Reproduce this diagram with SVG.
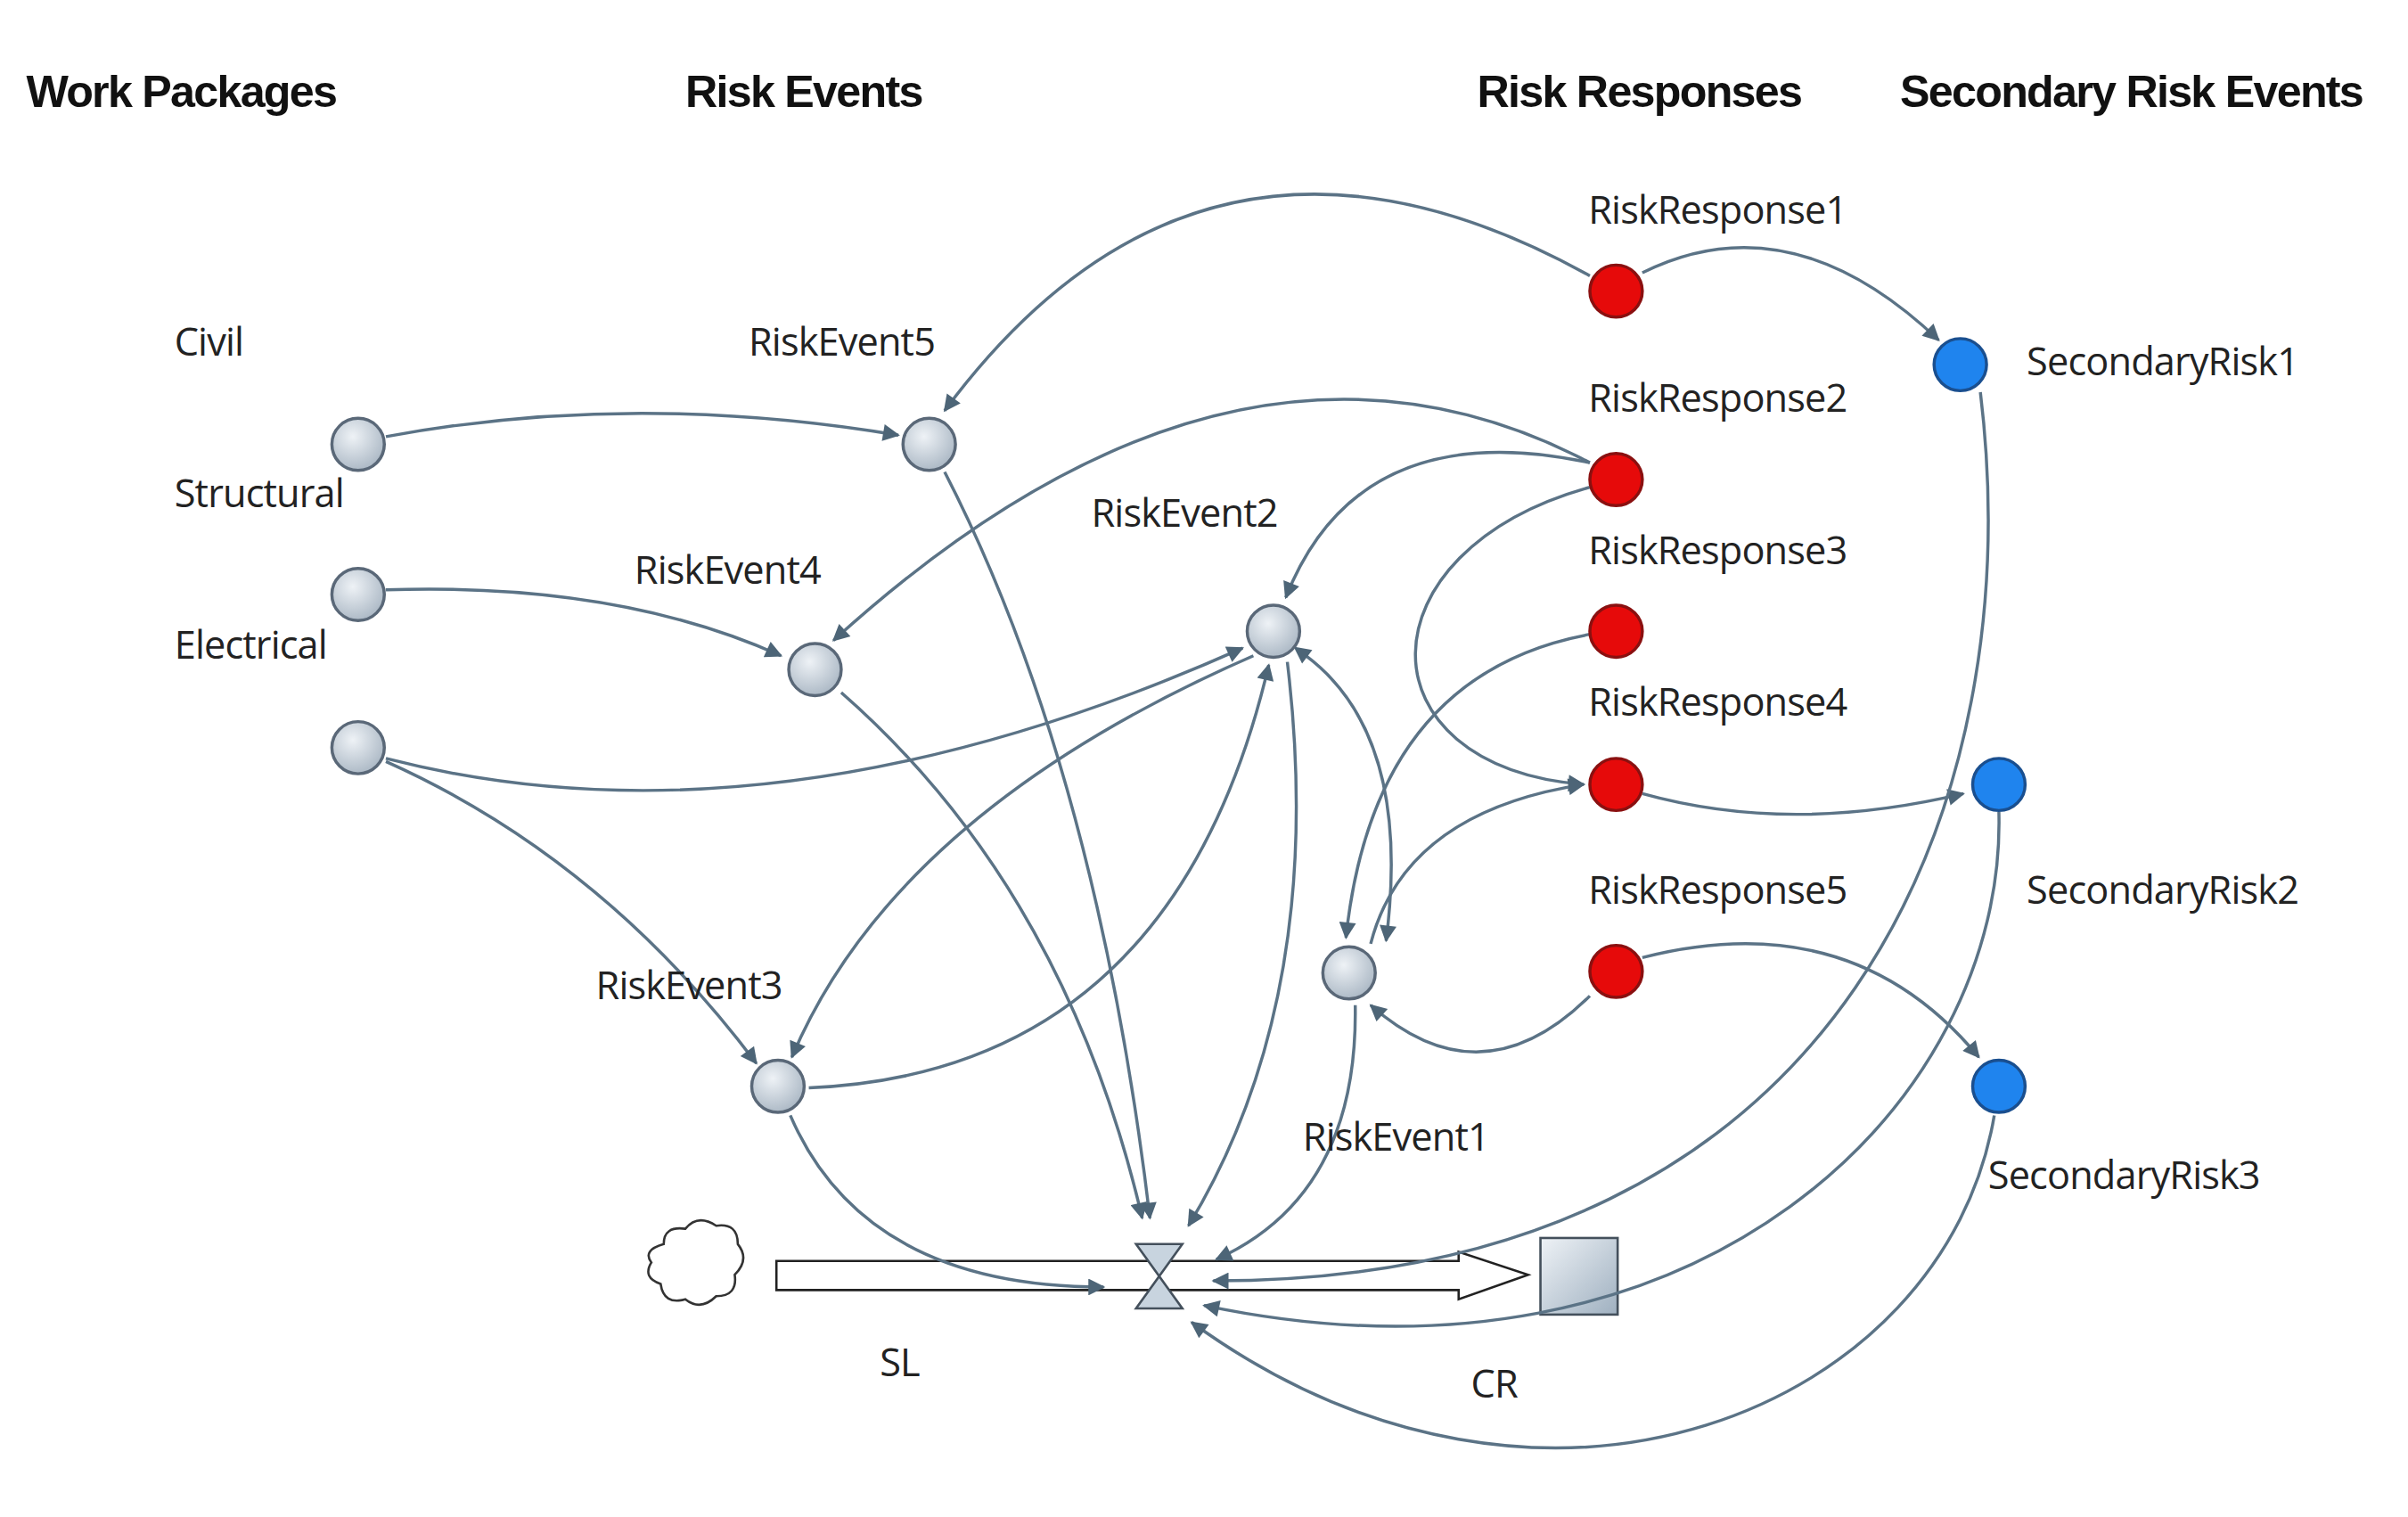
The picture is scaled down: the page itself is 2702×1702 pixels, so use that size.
<svg xmlns="http://www.w3.org/2000/svg" width="2702" height="1702" viewBox="0 0 2702 1702">
<style>
.h{font-family:"Liberation Sans",Arial,sans-serif;font-weight:bold;font-size:29px;fill:#111;letter-spacing:-1px}
.l{font-family:"Open Sans","DejaVu Sans",sans-serif;font-size:25px;fill:#222;letter-spacing:-0.5px}
.e{fill:none;stroke:#5b7386;stroke-width:2;marker-end:url(#a)}
.g{fill:url(#gg);stroke:#5a6878;stroke-width:2}
.r{fill:#e60a0a;stroke:#8a1010;stroke-width:2}
.b{fill:#1f84ee;stroke:#1a4f8f;stroke-width:2}
</style>
<defs>
<radialGradient id="gg" cx="0.4" cy="0.35" r="0.7"><stop offset="0" stop-color="#eef2f6"/><stop offset="1" stop-color="#a9b6c3"/></radialGradient>
<linearGradient id="sg" x1="0" y1="0" x2="1" y2="1"><stop offset="0" stop-color="#eef2f6"/><stop offset="1" stop-color="#9fb0c0"/></linearGradient>
<marker id="a" viewBox="0 0 10 10" refX="9" refY="5" markerWidth="13" markerHeight="11" orient="auto" markerUnits="userSpaceOnUse"><path d="M0,0L10,5L0,10z" fill="#4d6577"/></marker>
<marker id="s" viewBox="0 0 10 10" refX="1" refY="5" markerWidth="13" markerHeight="11" orient="auto-start-reverse" markerUnits="userSpaceOnUse"><path d="M0,0L10,5L0,10z" fill="#4d6577"/></marker>
</defs>
<rect width="2702" height="1702" fill="#fff"/>
<g transform="scale(1.732 1.719)">
<g id="headers">
<text class="h" x="17" y="70">Work Packages</text>
<text class="h" x="444" y="70">Risk Events</text>
<text class="h" x="957" y="70">Risk Responses</text>
<text class="h" x="1231" y="70">Secondary Risk Events</text>
</g>
<g id="flow">
<path d="M503,823 L945,823 L945,817 L990,832 L945,848 L945,842 L503,842 Z" fill="#fff" stroke="#222" stroke-width="1.5"/>
<path d="M736,812 L766,812 L736,854 L766,854 Z" fill="#c8d4df" stroke="#44505c" stroke-width="1.5"/>
<path d="M430,812 q0,-12 14,-10 q8,-10 20,-2 q14,-2 14,12 q8,10 -2,20 q2,14 -12,14 q-10,10 -20,2 q-14,4 -16,-10 q-12,-4 -6,-14 q-6,-8 8,-12z" fill="#fff" stroke="#333" stroke-width="1.5"/>
<text class="l" x="570" y="898">SL</text>
</g>
<g id="CR"><rect x="998" y="808" width="50" height="50" fill="url(#sg)" stroke="#44505c" stroke-width="1.5"/><text class="l" x="953" y="912">CR</text></g>
<g id="connectors">
<path class="e" d="M250,285 Q410,255 582,284"/>
<path class="e" d="M250,385 Q400,380 506,428"/>
<path class="e" d="M250,495 Q500,560 805,423"/>
<path class="e" d="M250,497 Q390,560 490,694"/>
<path class="e" d="M1030,180 Q780,40 612,268"/>
<path class="e" d="M1064,178 Q1160,130 1256,222"/>
<path class="e" d="M1030,302 Q800,180 540,418"/>
<path class="e" d="M1030,302 Q880,270 833,390"/>
<path class="e" d="M1030,318 C880,360 880,500 1026,512"/>
<path class="e" d="M1030,414 Q890,440 872,612"/>
<path class="e" d="M888,616 Q910,530 1026,512"/>
<path class="e" d="M1030,650 Q960,720 888,656"/>
<path class="e" d="M1064,518 Q1160,545 1272,518"/>
<path class="e" d="M1064,625 Q1200,590 1282,690"/>
<path class="e" d="M1283,256 C1315,520 1200,836 786,836"/>
<path class="e" d="M1295,530 C1300,720 1100,920 780,852"/>
<path class="e" d="M1292,728 C1260,920 1000,1030 772,863"/>
<path class="e" d="M612,308 Q710,500 745,795"/>
<path class="e" d="M545,452 Q690,580 740,795"/>
<path class="e" d="M834,432 Q860,650 770,800"/>
<path class="e" d="M524,710 Q760,700 822,434"/>
<path class="e" d="M812,428 Q580,530 513,690"/>
<path class="e" style="marker-start:url(#s)" d="M846,428 Q915,480 898,614"/>
<path class="e" d="M512,728 Q560,840 715,840"/>
<path class="e" d="M878,656 Q880,780 788,822"/>
</g>
<g id="Civil"><circle class="g" cx="232" cy="290" r="17"/><text class="l" x="113" y="232">Civil</text></g>
<g id="Structural"><circle class="g" cx="232" cy="388" r="17"/><text class="l" x="113" y="331">Structural</text></g>
<g id="Electrical"><circle class="g" cx="232" cy="488" r="17"/><text class="l" x="113" y="430">Electrical</text></g>
<g id="RiskEvent5"><circle class="g" cx="602" cy="290" r="17"/><text class="l" x="485" y="232">RiskEvent5</text></g>
<g id="RiskEvent4"><circle class="g" cx="528" cy="437" r="17"/><text class="l" x="411" y="381">RiskEvent4</text></g>
<g id="RiskEvent2"><circle class="g" cx="825" cy="412" r="17"/><text class="l" x="707" y="344">RiskEvent2</text></g>
<g id="RiskEvent3"><circle class="g" cx="504" cy="709" r="17"/><text class="l" x="386" y="652">RiskEvent3</text></g>
<g id="RiskEvent1"><circle class="g" cx="874" cy="635" r="17"/><text class="l" x="844" y="751">RiskEvent1</text></g>
<g id="RiskResponse1"><circle class="r" cx="1047" cy="190" r="17"/><text class="l" x="1029" y="146">RiskResponse1</text></g>
<g id="RiskResponse2"><circle class="r" cx="1047" cy="313" r="17"/><text class="l" x="1029" y="269">RiskResponse2</text></g>
<g id="RiskResponse3"><circle class="r" cx="1047" cy="412" r="17"/><text class="l" x="1029" y="368">RiskResponse3</text></g>
<g id="RiskResponse4"><circle class="r" cx="1047" cy="512" r="17"/><text class="l" x="1029" y="467">RiskResponse4</text></g>
<g id="RiskResponse5"><circle class="r" cx="1047" cy="634" r="17"/><text class="l" x="1029" y="590">RiskResponse5</text></g>
<g id="SecondaryRisk1"><circle class="b" cx="1270" cy="238" r="17"/><text class="l" x="1313" y="245">SecondaryRisk1</text></g>
<g id="SecondaryRisk2"><circle class="b" cx="1295" cy="512" r="17"/><text class="l" x="1313" y="590">SecondaryRisk2</text></g>
<g id="SecondaryRisk3"><circle class="b" cx="1295" cy="709" r="17"/><text class="l" x="1288" y="776">SecondaryRisk3</text></g>
</g>
</svg>
